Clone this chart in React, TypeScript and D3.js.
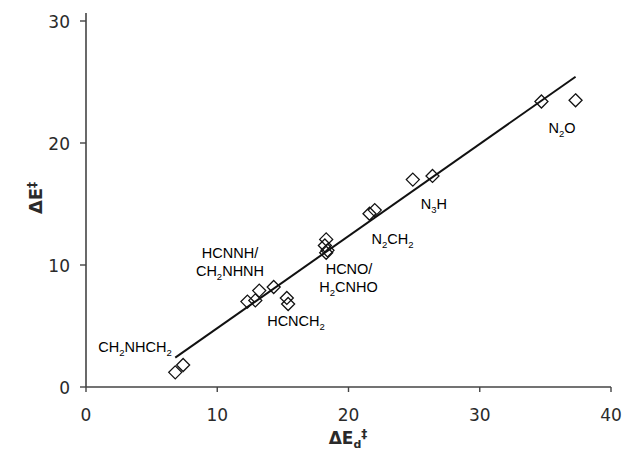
import React from "react";
import * as d3 from "d3";

// Data (kcal/mol): ΔE_d‡ (x) vs ΔE‡ (y)
const xValues = [6.8, 7.4, 12.3, 12.9, 13.2, 14.3, 15.3, 15.4, 18.3, 18.2, 18.4, 18.3, 21.6, 22.0, 24.9, 26.4, 34.7, 37.3];
const yValues = [1.2, 1.8, 7.0, 7.1, 7.9, 8.2, 7.3, 6.8, 12.1, 11.6, 11.2, 11.0, 14.2, 14.5, 17.0, 17.3, 23.4, 23.5];

// Linear trendline
const trendSlope = 0.755;
const trendIntercept = -2.73;

const xTicks = [0, 10, 20, 30, 40];
const yTicks = [0, 10, 20, 30];

// label parts: [text, isSub]; anchor in data units (centre of each line)
type Part = [string, boolean];
const labelLines: Part[][] = [
  [["CH", false], ["2", true], ["NHCH", false], ["2", true]],
  [["HCNNH/", false]],
  [["CH", false], ["2", true], ["NHNH", false]],
  [["HCNCH", false], ["2", true]],
  [["HCNO/", false]],
  [["H", false], ["2", true], ["CNHO", false]],
  [["N", false], ["2", true], ["CH", false], ["2", true]],
  [["N", false], ["3", true], ["H", false]],
  [["N", false], ["2", true], ["O", false]],
];
const labelX = [3.73, 10.97, 10.97, 16.0, 20.04, 20.0, 23.35, 26.51, 36.27];
const labelY = [3.28, 10.98, 9.5, 5.41, 9.67, 8.2, 12.13, 15.0, 21.23];

export default function App() {
  const W = 625, H = 459;
  const x = d3.scaleLinear().domain([0, 40]).range([86, 611]);
  const y = d3.scaleLinear().domain([0, 30]).range([387, 21]);
  const r = 6.5;
  const diamond = (cx: number, cy: number) =>
    `M${cx},${cy - r}L${cx + r},${cy}L${cx},${cy + r}L${cx - r},${cy}Z`;

  const xMin = d3.min(xValues) as number;
  const xMax = d3.max(xValues) as number;
  const line = d3.line<number>().x((v) => x(v)).y((v) => y(trendSlope * v + trendIntercept));

  const axisColor = "#444";
  const tickFont = "DejaVu Sans, Verdana, sans-serif";
  const labFont = "Liberation Sans, Arial, sans-serif";

  return (
    <svg width={W} height={H} style={{ position: "absolute", left: 0, top: 0, background: "#fff" }}>
      <rect width={W} height={H} fill="#fff" />
      {/* axes */}
      <line x1={x(0)} x2={x(40)} y1={y(0)} y2={y(0)} stroke={axisColor} strokeWidth={1.6} />
      <line x1={x(0)} x2={x(0)} y1={y(0)} y2={y(30.65)} stroke={axisColor} strokeWidth={1.6} />
      {xTicks.map((t) => (
        <g key={"xt" + t}>
          <line x1={x(t)} x2={x(t)} y1={y(0)} y2={y(0) + 5} stroke={axisColor} strokeWidth={1.4} />
          <text x={x(t)} y={y(0) + 34} textAnchor="middle" fontFamily={tickFont} fontSize={17} fill="#2a2a2a">
            {t}
          </text>
        </g>
      ))}
      {yTicks.map((t) => (
        <g key={"yt" + t}>
          <line x1={x(0) - 6} x2={x(0)} y1={y(t)} y2={y(t)} stroke={axisColor} strokeWidth={1.4} />
          <text x={x(0) - 16} y={y(t) + 6.5} textAnchor="end" fontFamily={tickFont} fontSize={17} fill="#2a2a2a">
            {t}
          </text>
        </g>
      ))}
      {/* axis titles */}
      <text x={348} y={444} textAnchor="middle" fontFamily={tickFont} fontSize={17} fontWeight="bold" fill="#2a2a2a">
        ΔE<tspan fontSize={11} dy={4}>d</tspan>
        <tspan fontSize={12} dy={-10}>‡</tspan>
      </text>
      <text
        transform={`translate(42,${198}) rotate(-90)`}
        textAnchor="middle"
        fontFamily={tickFont}
        fontSize={18}
        fontWeight="bold"
        fill="#2a2a2a"
      >
        ΔE<tspan fontSize={12} dy={-6}>‡</tspan>
      </text>
      {/* trendline */}
      <path d={line([xMin, xMax]) ?? ""} fill="none" stroke="#111" strokeWidth={2} />
      {/* points */}
      {xValues.map((v, i) => (
        <path key={"p" + i} d={diamond(x(v), y(yValues[i]))} fill="none" stroke="#111" strokeWidth={1.3} />
      ))}
      {/* annotations */}
      {labelLines.map((parts, i) => (
        <text
          key={"l" + i}
          x={x(labelX[i])}
          y={y(labelY[i]) + 5}
          textAnchor="middle"
          fontFamily={labFont}
          fontSize={14.5}
          fill="#000"
        >
          {parts.map(([s, sub], j) => {
            const prevSub = j > 0 && parts[j - 1][1];
            const dy = sub ? 4 : prevSub ? -4 : 0;
            return (
              <tspan key={j} dy={dy} fontSize={sub ? 9.5 : 14.5}>
                {s}
              </tspan>
            );
          })}
        </text>
      ))}
    </svg>
  );
}
